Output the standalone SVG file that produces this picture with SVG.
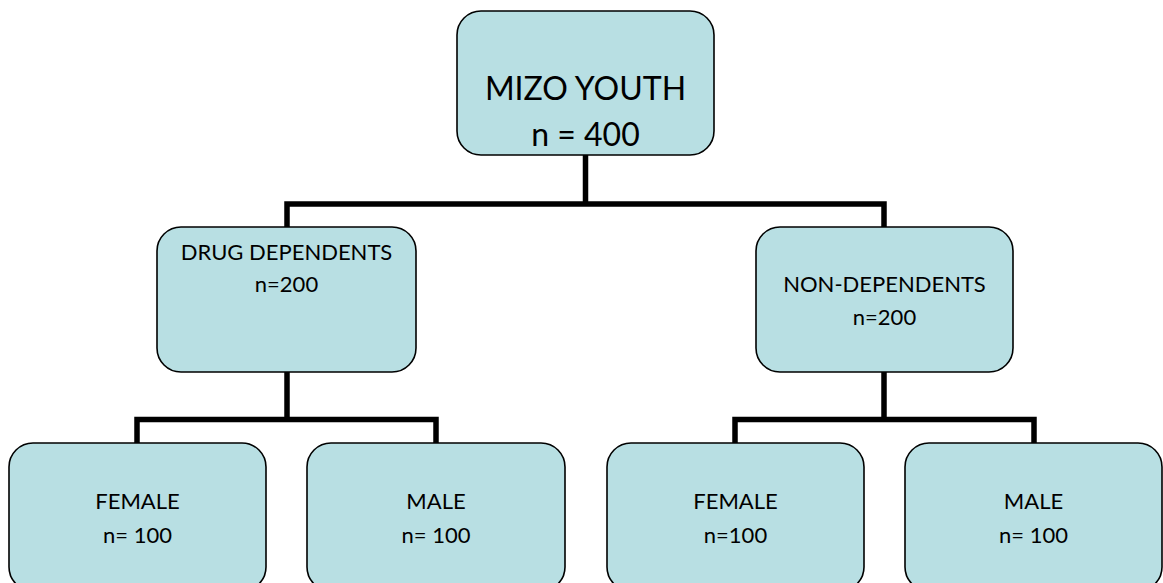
<svg xmlns="http://www.w3.org/2000/svg" width="1163" height="583" viewBox="0 0 1163 583">
<style>
.box{fill:#b8dfe3;stroke:#000;stroke-width:1.6}
.t{font-family:Lato,"Open Sans","Liberation Sans",sans-serif;fill:#000;text-anchor:middle}
.big{font-size:32px}
.mid{font-size:22px}
.conn{fill:none;stroke:#000;stroke-width:5.5;stroke-linejoin:miter;stroke-linecap:butt}
</style>
<rect width="1163" height="583" fill="#fff"/>
<g id="connectors">
<path class="conn" d="M585.5 155 V204"/>
<path class="conn" d="M287 227 V204 H884 V227"/>
<path class="conn" d="M287 372 V419.5"/>
<path class="conn" d="M137 443 V419.5 H436 V443"/>
<path class="conn" d="M884 372 V419.5"/>
<path class="conn" d="M735 443 V419.5 H1034 V443"/>
</g>
<g id="mizo-youth">
<rect class="box" x="457" y="11" width="257" height="144" rx="24"/>
<text class="t big" x="585.5" y="100">MIZO YOUTH</text>
<text class="t big" x="585.5" y="146">n = 400</text>
</g>
<g id="drug-dependents">
<rect class="box" x="157" y="227" width="259" height="145" rx="24"/>
<text class="t mid" x="286.5" y="260">DRUG DEPENDENTS</text>
<text class="t mid" x="286.5" y="292">n=200</text>
</g>
<g id="non-dependents">
<rect class="box" x="756" y="227" width="257" height="145" rx="24"/>
<text class="t mid" x="884.5" y="292">NON-DEPENDENTS</text>
<text class="t mid" x="884.5" y="325">n=200</text>
</g>
<g id="dd-female">
<rect class="box" x="9" y="443" width="257" height="148" rx="24"/>
<text class="t mid" x="137.5" y="509">FEMALE</text>
<text class="t mid" x="137.5" y="543">n= 100</text>
</g>
<g id="dd-male">
<rect class="box" x="307" y="443" width="258" height="148" rx="24"/>
<text class="t mid" x="436" y="509">MALE</text>
<text class="t mid" x="436" y="543">n= 100</text>
</g>
<g id="nd-female">
<rect class="box" x="607" y="443" width="257" height="148" rx="24"/>
<text class="t mid" x="735.5" y="509">FEMALE</text>
<text class="t mid" x="735.5" y="543">n=100</text>
</g>
<g id="nd-male">
<rect class="box" x="905" y="443" width="257" height="148" rx="24"/>
<text class="t mid" x="1033.5" y="509">MALE</text>
<text class="t mid" x="1033.5" y="543">n= 100</text>
</g>
</svg>
